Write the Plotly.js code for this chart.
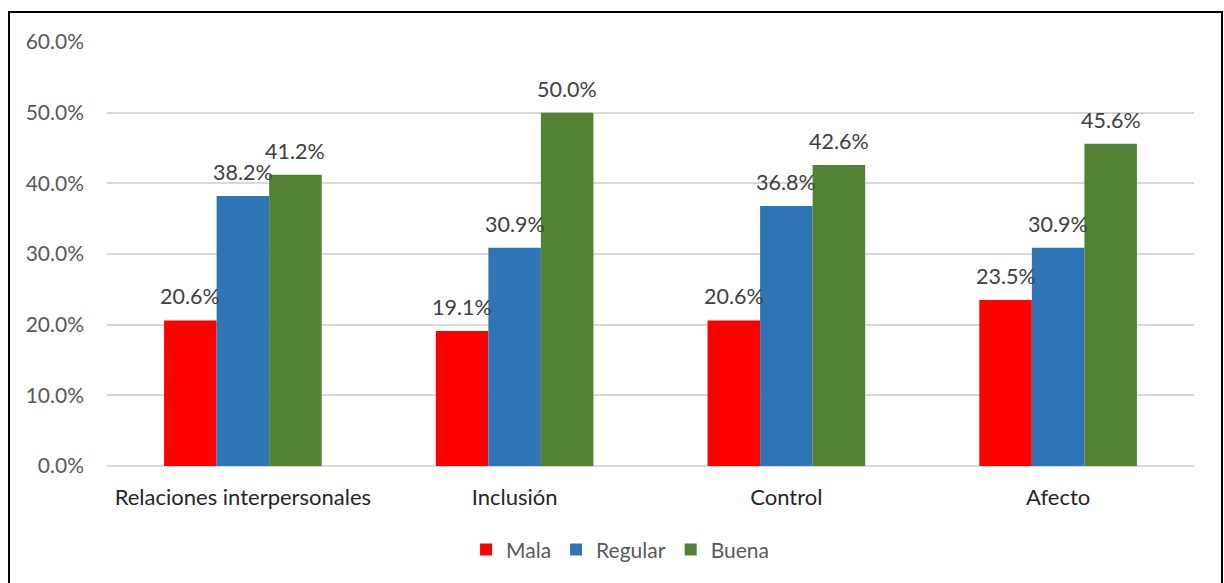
<!DOCTYPE html>
<html>
<head>
<meta charset="utf-8">
<script src="https://cdn.plot.ly/plotly-3.0.1.min.js"></script>
<style>
  html, body { margin: 0; padding: 0; background: #fff; }
  #wrap { position: relative; width: 1224px; height: 583px; overflow: hidden; }
  #chart { position: absolute; left: 0; top: 0; width: 1224px; height: 583px; }
  #frame { position: absolute; left: 8px; top: 11px; width: 1211px; height: 600px;
           border: 2.5px solid #000; pointer-events: none; box-sizing: content-box; }
</style>
</head>
<body>
<div id="wrap">
  <div id="chart"></div>
  <div id="frame"></div>
</div>
<script>
const categories = ["Relaciones interpersonales", "Inclusión", "Control", "Afecto"];
const seriesNames = ["Mala", "Regular", "Buena"];
const mala = [0.206, 0.191, 0.206, 0.235];
const regular = [0.382, 0.309, 0.368, 0.309];
const buena = [0.412, 0.500, 0.426, 0.456];
const colors = ["#FF0000", "#2E75B6", "#548235"];
const yTickVals = [0, 0.1, 0.2, 0.3, 0.4, 0.5, 0.6];

const FONT = "Lato, 'Open Sans', sans-serif";
const seriesValues = [mala, regular, buena];
const bargap = 0.42;
const barW = (1 - bargap) / seriesValues.length;

const traces = seriesValues.map((vals, j) => ({
  type: "bar",
  name: seriesNames[j],
  x: categories,
  y: vals,
  marker: { color: colors[j], line: { width: 0 } },
  hoverinfo: "none"
}));

const annotations = [];
seriesValues.forEach((vals, j) => {
  vals.forEach((v, i) => {
    annotations.push({
      xref: "x", yref: "y",
      x: i + (j - (seriesValues.length - 1) / 2) * barW,
      y: v,
      text: (v * 100).toFixed(1) + "%",
      showarrow: false,
      yanchor: "middle",
      yshift: 24,
      font: { family: FONT, size: 21.5, color: "#404040" }
    });
  });
});

const layout = {
  width: 1224, height: 583,
  margin: { l: 107, r: 30, t: 42, b: 117 },
  paper_bgcolor: "#fff", plot_bgcolor: "#fff",
  barmode: "group", bargap: bargap, bargroupgap: 0,
  showlegend: true,
  legend: {
    orientation: "h", x: 0.472, xanchor: "center", y: -0.198, yanchor: "middle",
    font: { family: FONT, size: 21, color: "#595959" },
    itemwidth: 30, traceorder: "normal"
  },
  xaxis: {
    type: "category",
    tickfont: { family: FONT, size: 22, color: "#262626" },
    showgrid: false, showline: false, ticks: "",
    ticklabelstandoff: 16, zeroline: false
  },
  yaxis: {
    range: [0, 0.6], tickvals: yTickVals, tickformat: ".1%",
    tickfont: { family: FONT, size: 21, color: "#595959" },
    showgrid: true, gridcolor: "#D9D9D9", gridwidth: 2,
    zeroline: true, zerolinecolor: "#D9D9D9", zerolinewidth: 2,
    showline: false, ticks: "", ticklabelstandoff: 22
  },
  annotations: annotations
};

Plotly.newPlot("chart", traces, layout, { staticPlot: true, displayModeBar: false });
</script>
</body>
</html>
